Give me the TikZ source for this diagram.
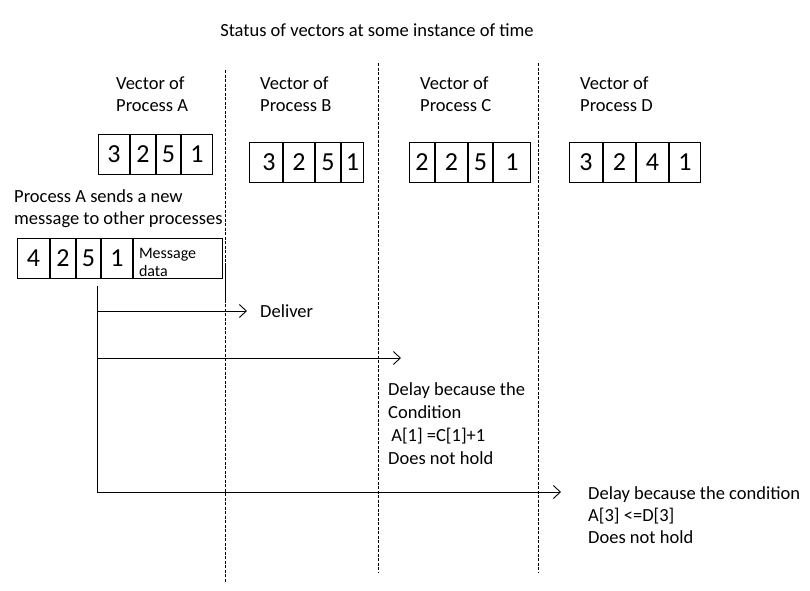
\documentclass[tikz,border=0pt]{standalone}
\usepackage{fontspec}
\setmainfont{Carlito}
\usetikzlibrary{positioning,arrows.meta}

\tikzset{
  cell/.style={draw, line width=1pt, minimum height=40pt, inner sep=0pt,
    font=\fontsize{26}{30}\selectfont},
  lbl/.style={inner sep=0pt, align=left, font=\fontsize{18.5}{22}\selectfont},
  timeline/.style={line width=0.8pt, dash pattern=on 3pt off 1.5pt},
  msg/.style={line width=0.9pt, -{Straight Barb[length=7pt,width=13pt]}}
}

\begin{document}
\begin{tikzpicture}[x=1pt,y=-1pt]
   \useasboundingbox (0,0) rectangle (810,590);
   \node[lbl] (title) at (377,30) {Status of vectors at some instance of time};

   % process time lines
   \draw[timeline] (225,70) -- (225,582);
   \draw[timeline] (378,63) -- (378,573);
   \draw[timeline] (538,63) -- (538,573);
   \draw[line width=0.8pt] (225,263) -- (225,303);

   \node[lbl, anchor=north west] (hA) at (116,77) {Vector of\\Process A};
   \node[lbl, anchor=north west] (hB) at (260,77) {Vector of\\Process B};
   \node[lbl, anchor=north west] (hC) at (420,77) {Vector of\\Process C};
   \node[lbl, anchor=north west] (hD) at (580,77) {Vector of\\Process D};

   % vector of A
   \node[cell, minimum width=31pt, anchor=west] (a1) at (98,154) {3};
   \node[cell, minimum width=25pt, right=0pt of a1] (a2) {2};
   \node[cell, minimum width=24pt, right=0pt of a2] (a3) {5};
   \node[cell, minimum width=31pt, right=0pt of a3] (a4) {1};

   % vector of B
   \node[cell, minimum width=33pt, anchor=west] (b1) at (249,162) {\hspace{6pt}3};
   \node[cell, minimum width=31pt, right=0pt of b1] (b2) {2};
   \node[cell, minimum width=25pt, right=0pt of b2] (b3) {5};
   \node[cell, minimum width=22pt, right=0pt of b3] (b4) {1};

   % vector of C
   \node[cell, minimum width=25pt, anchor=west] (c1) at (409,162) {2};
   \node[cell, minimum width=32pt, right=0pt of c1] (c2) {2};
   \node[cell, minimum width=24pt, right=0pt of c2] (c3) {5};
   \node[cell, minimum width=37pt, right=0pt of c3] (c4) {1};

   % vector of D
   \node[cell, minimum width=33pt, anchor=west] (d1) at (569,162) {3};
   \node[cell, minimum width=32pt, right=0pt of d1] (d2) {2};
   \node[cell, minimum width=32pt, right=0pt of d2] (d3) {4};
   \node[cell, minimum width=31pt, right=0pt of d3] (d4) {1};

   % new message of A
   \node[lbl, anchor=north west] (send) at (14,189) {Process A sends a new\\message to other processes};
   \node[cell, minimum width=32pt, anchor=west] (m1) at (17,258) {4};
   \node[cell, minimum width=25pt, right=0pt of m1] (m2) {2};
   \node[cell, minimum width=24pt, right=0pt of m2] (m3) {5};
   \node[cell, minimum width=31pt, right=0pt of m3] (m4) {1};
   \node[cell, minimum width=89pt, right=0pt of m4, align=left, text width=78pt,
     inner xsep=5.5pt, text height=17pt, text depth=17pt,
     font=\fontsize{16}{18}\selectfont] (mdata) {Message\\data};

   \coordinate (src) at (97,286);
   \coordinate (toB) at (247,311);
   \coordinate (toC) at (401,358);
   \coordinate (toD) at (561,492);
   \draw[msg] (src) |- (toB);
   \draw[msg] (src) |- (toC);
   \draw[msg] (src) |- (toD);

   \node[lbl, right=13pt of toB] (deliver) {Deliver};
   \node[lbl, anchor=north west, font=\fontsize{18.5}{23}\selectfont] (delayC) at (388,382)
     {Delay because the\\Condition\\\,A[1] =C[1]+1\\Does not hold};
   \node[lbl, anchor=north west] (delayD) at (588,486)
     {Delay because the condition\\A[3] <=D[3]\\Does not hold};
\end{tikzpicture}
\end{document}
